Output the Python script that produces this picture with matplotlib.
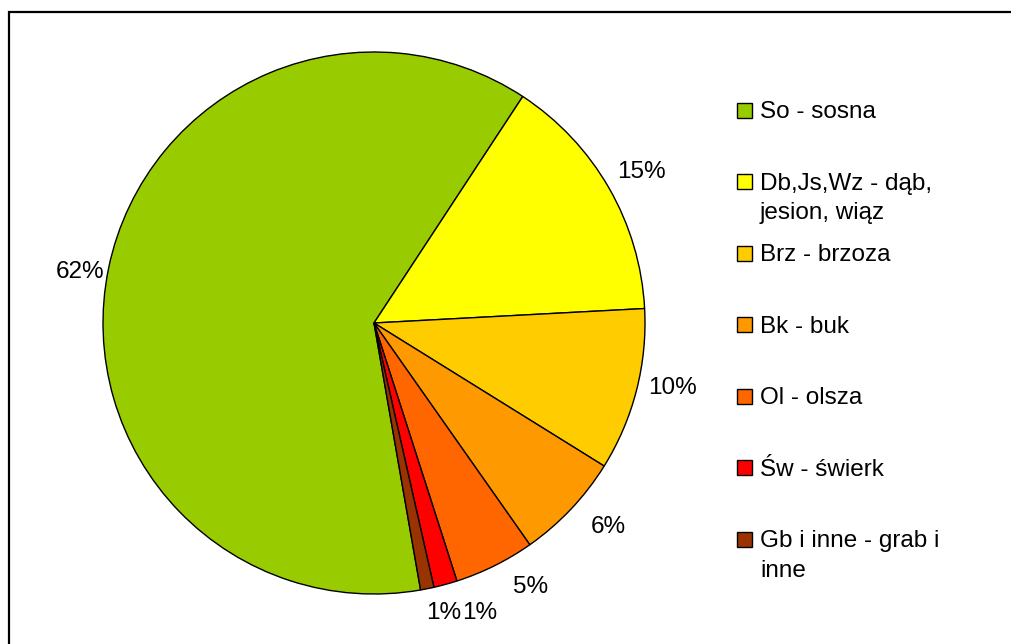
import matplotlib

matplotlib.use("Agg")
import matplotlib.pyplot as plt
from matplotlib.patches import Rectangle
import numpy as np

plt.rcParams["font.family"] = ["Liberation Sans", "DejaVu Sans"]

# species share of the stand (percent)
labels = ["So - sosna", "Db,Js,Wz - dąb,\njesion, wiąz", "Brz - brzoza",
          "Bk - buk", "Ol - olsza", "Św - świerk", "Gb i inne - grab i\ninne"]
values = [62.0, 14.9, 9.7, 6.4, 4.8, 1.4, 0.8]
colors = ["#99CC00", "#FFFF00", "#FFCC00", "#FF9900", "#FF6600", "#FF0000", "#993300"]

W, H = 1011, 644
fig = plt.figure(figsize=(W / 100, H / 100), dpi=100)
fig.patch.set_facecolor("white")

# outer chart frame (runs off the right and bottom edge)
fig.patches.append(Rectangle((9 / W, -0.05), 1.1, (H - 12) / H + 0.05,
                             transform=fig.transFigure, fill=False,
                             edgecolor="black", linewidth=1.6))

cx, cy, r = 374, 323, 271
ax = fig.add_axes([(cx - r) / W, (H - cy - r) / H, 2 * r / W, 2 * r / H])
wedges, _ = ax.pie(values, colors=colors, startangle=-80.1, counterclock=False,
                   wedgeprops=dict(edgecolor="black", linewidth=1.0),
                   radius=1.0)
ax.set_xlim(-1, 1)
ax.set_ylim(-1, 1)
ax.set_aspect("equal")
ax.axis("off")

# percentage labels outside the wedges; Excel-style nudges (deg, radius)
fs = 17.5
nudge = [(1.9, 1.10), (-0.4, 1.133), (2.1, 1.128), (2.3, 1.145),
         (4.3, 1.133), (4.75, 1.14), (2.2, 1.10)]
for w, v, (da, d) in zip(wedges, values, nudge):
    mid = np.deg2rad((w.theta1 + w.theta2) / 2 + da)
    ax.text(d * np.cos(mid), d * np.sin(mid), f"{round(v):.0f}%",
            ha="center", va="center", fontsize=fs, clip_on=False)

# legend, drawn by hand so the square lines up with the first text line
y0, step = 110, 71.5
for i, (lab, col) in enumerate(zip(labels, colors)):
    y = y0 + i * step
    fig.patches.append(Rectangle((737 / W, (H - y - 7.5) / H), 15 / W, 15 / H,
                                 transform=fig.transFigure, facecolor=col,
                                 edgecolor="black", linewidth=1.0))
    fig.text(760 / W, (H - y + 9) / H, lab, ha="left", va="top", fontsize=fs,
             linespacing=1.45, transform=fig.transFigure)

fig.savefig("out.png", dpi=100, facecolor="white")
